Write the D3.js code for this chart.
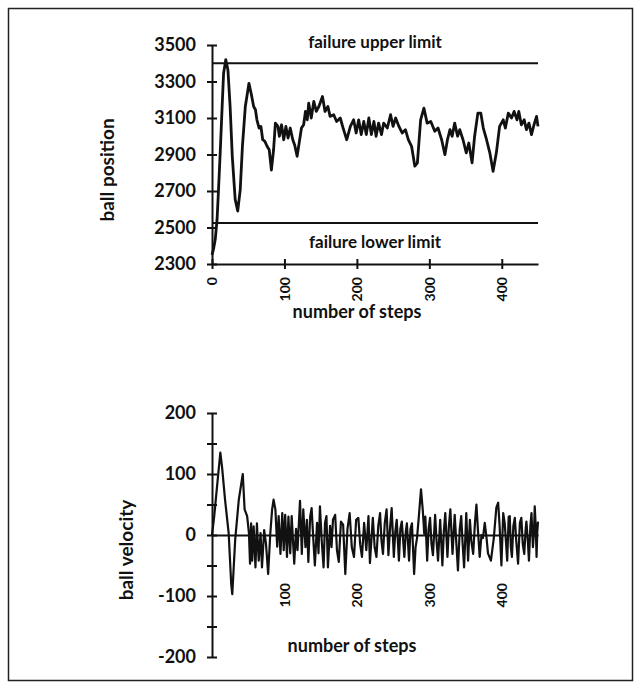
<!DOCTYPE html>
<html>
<head>
<meta charset="utf-8">
<script src="https://cdn.jsdelivr.net/npm/d3@7"></script>
<style>
  body { margin: 0; background: #fff; }
  text { font-family: Lato, "Open Sans", sans-serif; font-weight: 700; fill: #111; }
</style>
</head>
<body>
<svg id="chart" width="642" height="688"></svg>
<script>

// ball position
const posSteps = [
  0, 2, 4.5, 7, 9, 11.5, 14, 16, 19, 22,
  25, 28, 32, 35.5, 39, 42, 46, 51, 54, 57.5,
  60, 62, 65, 67.5, 70, 73, 76, 79, 82, 85,
  87.5, 91, 93, 96, 99, 102, 105, 108, 111.5, 114,
  117.5, 121, 123.5, 126.5, 129, 131.5, 133.5, 137, 140.5, 144,
  147.5, 152.5, 156, 160, 163, 168, 172, 177, 181, 186,
  191, 195.5, 199, 202.5, 206, 209.5, 213, 216.5, 220, 223.5,
  226.5, 230, 234, 237, 242, 246.5, 250, 253.5, 258, 262.5,
  267, 271, 275.5, 280, 283.5, 288, 292.5, 297, 302, 307.5,
  312, 317, 321.5, 325, 328.5, 331.5, 335, 339, 342, 346.5,
  351, 354.5, 359, 362.5, 367, 371, 374.5, 379, 383.5, 388,
  392.5, 397, 402, 405, 409, 413.5, 417, 421, 423.5, 427,
  431, 434, 437.5, 441, 444.5, 448, 450
];
const posValues = [
  2350, 2380, 2435, 2544, 2708, 2926, 3163, 3345, 3420, 3363,
  3163, 2890, 2654, 2590, 2708, 2945, 3163, 3290, 3236, 3163,
  3145, 3090, 3045, 3054, 2981, 2972, 2945, 2926, 2815, 2926,
  3072, 3054, 3000, 3063, 2981, 3054, 2990, 3045, 2981, 2954,
  2890, 2981, 3045, 3063, 3136, 3090, 3182, 3100, 3191, 3136,
  3163, 3218, 3136, 3163, 3109, 3118, 3081, 3100, 3045, 2981,
  3054, 3090, 3018, 3090, 3009, 3081, 3009, 3100, 3009, 3081,
  3000, 3072, 3009, 3072, 3045, 3118, 3054, 3100, 3054, 3018,
  3036, 2981, 2945, 2836, 2854, 3090, 3154, 3072, 3081, 3027,
  3045, 2981, 2899, 2981, 3036, 3000, 3072, 3000, 3036, 2981,
  2909, 2963, 2854, 3000, 3127, 3127, 3045, 2981, 2909, 2808,
  2909, 3054, 3090, 3045, 3127, 3100, 3136, 3090, 3136, 3063,
  3090, 3036, 3072, 3009, 3063, 3109, 3054
];

// ball velocity
const velSteps = [
  0, 3, 7, 11.5, 14, 18, 23, 26.5, 28, 32,
  37, 42.5, 45, 48.5, 51, 52.5, 54, 55.5, 57.5, 60,
  62, 64.5, 67, 69, 72, 74.5, 77.5, 80.5, 83, 85,
  87.5, 90, 92, 94.5, 97, 99, 101, 103.5, 105.5, 108,
  110, 113.5, 116, 118, 121.5, 124, 126, 129, 131, 133,
  135.5, 137.5, 140, 142, 145, 147, 149, 151.5, 154, 156,
  158, 160, 163, 165, 167, 170, 172.5, 175, 178, 181,
  184, 187, 190, 193, 196, 199, 202, 204.5, 207, 210,
  213, 216, 218, 222, 224.5, 227, 229.5, 232, 234, 236,
  238.5, 241, 243.5, 246, 248, 251, 253, 255, 258, 260,
  262, 265.5, 267.5, 269, 272, 274, 276, 279, 281, 283,
  285.5, 288.5, 291, 293, 294.5, 297, 299, 301, 303, 305,
  308, 310, 312, 315, 318, 320, 322, 325, 327, 329,
  332, 335, 339.5, 342, 344, 346, 348, 351, 353.5, 356,
  358, 360.5, 363, 365, 367, 369.5, 372, 374, 376.5, 379,
  381, 385, 389, 392.5, 395, 397, 399.5, 402, 404, 406,
  407.5, 409.5, 411, 412.5, 414, 416, 418, 420, 422.5, 425,
  427, 429, 431, 433, 434, 436, 437.5, 439.5, 441, 443,
  444.5, 445.5, 447, 448, 449, 450
];
const velValues = [
  0, 30, 80, 135, 110, 58, 3, -80, -97, -8,
  58, 100, 42, 31, 3, -47, 19, -42, 14, -53,
  19, -42, 3, -53, 8, -14, -64, 3, 42, 58,
  42, -19, 31, -31, 36, -25, 33, -36, 30, -30,
  31, -47, 10, -25, 56, -31, 42, -20, 25, -44,
  30, 44, -10, -50, 20, -30, 47, -10, -53, 20,
  31, -53, 15, -20, 25, 33, -25, -44, 22, 17,
  -64, 10, 36, -20, -36, 25, 28, -15, -36, 20,
  -25, 31, -46, 28, -20, -36, 15, 36, -10, -31,
  20, 42, -33, 15, 44, -36, 5, 25, -42, 10,
  22, -36, 5, 19, -42, 10, 19, -64, -20, -5,
  30, 75, 40, 2, 30, -42, 10, 28, -15, -33,
  33, -10, -42, 25, -50, 5, 36, -36, 15, 42,
  -31, 33, -58, 10, 31, -15, -53, 36, -42, 25,
  -10, -31, 20, 50, 10, -36, 0, -5, 20, -5,
  -30, -42, -5, 45, 53, 15, -50, 36, 20, -15,
  -42, 30, 31, -20, -36, 15, 28, -10, -47, 20,
  28, -15, -31, 10, 22, -10, -42, 15, 36, -20,
  5, 47, 10, -36, 5, 22
];

const posTicks = [2300, 2500, 2700, 2900, 3100, 3300, 3500];
const velTicks = [-200, -150, -100, -50, 0, 50, 100, 150, 200];
const stepTicks = [0, 100, 200, 300, 400];
const limitValues = [3400, 2525];
const limitLabels = ["failure upper limit", "failure lower limit"];

const svg = d3.select("#chart");

// frame round the figure
svg.append("rect")
  .attr("x", 8.5).attr("y", 8.5)
  .attr("width", 624).attr("height", 672)
  .attr("fill", "none").attr("stroke", "#222").attr("stroke-width", 1.5);

const x = d3.scaleLinear().domain([0, 450]).range([212, 538]);
const yPos = d3.scaleLinear().domain([2300, 3500]).range([264, 45]);
const yVel = d3.scaleLinear().domain([-200, 200]).range([657, 413]);

function styleAxis(g, width) {
  g.attr("font-size", null).attr("font-family", null);
  g.select(".domain").attr("stroke", "#111").attr("stroke-width", width);
  g.selectAll(".tick line").attr("stroke", "#111").attr("stroke-width", width);
}

// ---------- upper panel: ball position ----------
const yAxisTop = svg.append("g")
  .attr("transform", `translate(${x(0)},0)`)
  .call(d3.axisLeft(yPos).tickValues(posTicks).tickSize(5).tickSizeOuter(0)
    .tickPadding(11).tickFormat(d => String(d)));
styleAxis(yAxisTop, 2);
yAxisTop.selectAll(".tick line").attr("x1", 5);
yAxisTop.selectAll("text").style("font-size", "18px");

const xAxisTop = svg.append("g")
  .attr("transform", `translate(0,${yPos(2300)})`)
  .call(d3.axisBottom(x).tickValues(stepTicks).tickSize(5).tickSizeOuter(0)
    .tickFormat(d => String(d)));
styleAxis(xAxisTop, 2);
xAxisTop.selectAll(".tick line").attr("y1", -5);
xAxisTop.selectAll("text")
  .attr("transform", "rotate(-90)")
  .attr("x", -13).attr("y", 0).attr("dy", "0.35em")
  .attr("text-anchor", "end")
  .style("font-size", "14px");

svg.selectAll(".limit")
  .data(limitValues)
  .join("line")
  .attr("class", "limit")
  .attr("x1", x(0)).attr("x2", x(450))
  .attr("y1", d => yPos(d)).attr("y2", d => yPos(d))
  .attr("stroke", "#111").attr("stroke-width", 2);

svg.selectAll(".limit-label")
  .data(limitLabels)
  .join("text")
  .attr("class", "limit-label")
  .attr("x", x(225))
  .attr("y", (d, i) => i === 0 ? yPos(limitValues[0]) - 15 : yPos(limitValues[1]) + 25)
  .attr("text-anchor", "middle")
  .style("font-size", "17px")
  .text(d => d);

svg.append("path")
  .datum(posSteps.map((s, i) => [s, posValues[i]]))
  .attr("fill", "none")
  .attr("stroke", "#111")
  .attr("stroke-width", 2.8)
  .attr("stroke-linejoin", "round")
  .attr("d", d3.line().x(d => x(d[0])).y(d => yPos(d[1])));

svg.append("text")
  .attr("transform", "translate(114,170) rotate(-90)")
  .attr("text-anchor", "middle")
  .style("font-size", "19px")
  .text("ball position");

svg.append("text")
  .attr("x", 357).attr("y", 318)
  .attr("text-anchor", "middle")
  .style("font-size", "18px")
  .text("number of steps");

// ---------- lower panel: ball velocity ----------
const yAxisBot = svg.append("g")
  .attr("transform", `translate(${x(0)},0)`)
  .call(d3.axisLeft(yVel).tickValues(velTicks).tickSize(5).tickSizeOuter(0)
    .tickPadding(11).tickFormat(d => d % 100 === 0 ? String(d) : ""));
styleAxis(yAxisBot, 2);
yAxisBot.selectAll(".tick line").attr("x1", 5);
yAxisBot.selectAll("text").style("font-size", "18px");

const xAxisBot = svg.append("g")
  .attr("transform", `translate(0,${yVel(0)})`)
  .call(d3.axisBottom(x).tickValues(stepTicks.slice(1)).tickSize(0).tickSizeOuter(0)
    .tickFormat(d => String(d)));
styleAxis(xAxisBot, 2);
xAxisBot.selectAll("text")
  .attr("transform", "rotate(-90)")
  .attr("x", -48).attr("y", 0).attr("dy", "0.35em")
  .attr("text-anchor", "end")
  .style("font-size", "14px");

svg.append("path")
  .datum(velSteps.map((s, i) => [s, velValues[i]]))
  .attr("fill", "none")
  .attr("stroke", "#111")
  .attr("stroke-width", 2.2)
  .attr("stroke-linejoin", "round")
  .attr("d", d3.line().x(d => x(d[0])).y(d => yVel(d[1])));

svg.append("text")
  .attr("transform", "translate(133,550) rotate(-90)")
  .attr("text-anchor", "middle")
  .style("font-size", "19px")
  .text("ball velocity");

svg.append("text")
  .attr("x", 352).attr("y", 652)
  .attr("text-anchor", "middle")
  .style("font-size", "18px")
  .text("number of steps");

</script>
</body>
</html>
